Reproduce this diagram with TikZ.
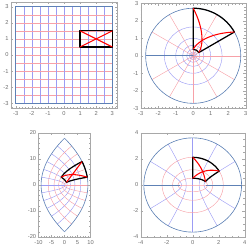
\documentclass[tikz,border=0pt]{standalone}
\usepackage{fontspec}
\setmainfont{Liberation Sans}
\usepackage{xcolor}
\usepackage{tikz}
\definecolor{mBlue}{HTML}{9C9CF4}
\definecolor{mRed}{HTML}{F7A1A8}
\definecolor{mEdge}{HTML}{5E81B5}
\definecolor{mFrame}{HTML}{A8A8A8}
\definecolor{mText}{HTML}{6E6E6E}
\tikzset{
  gridblue/.style={draw=mBlue, line width=0.5pt},
  gridred/.style={draw=mRed, line width=0.5pt},
  bound/.style={draw=mEdge, line width=0.7pt},
  regionbox/.style={draw=black, line width=1.4pt, line join=round},
  diag/.style={draw=red, line width=1.2pt},
  frameline/.style={draw=mFrame, line width=0.4pt},
  ticklab/.style={font=\fontsize{6.5}{7}\selectfont, text=mText, inner sep=0.5pt},
}

\begin{document}
\begin{tikzpicture}
  \useasboundingbox (0,0) rectangle (10,10);

  % panel 1: the square grid with the rectangle
  \begin{scope}[shift={(2.56,7.8)}, x=0.644cm, y=0.644cm]
    \foreach \v in {-3,-2.5,...,3} {
      \draw[gridblue] (\v,-3) -- (\v,3);
      \draw[gridred] (-3,\v) -- (3,\v);
    }
    \draw[bound] (-3,-3) rectangle (3,3);
    \draw[regionbox] (1,0.5) rectangle (3,1.5);
    \draw[diag] (1,0.5) -- (3,1.5) (3,0.5) -- (1,1.5);
    \draw[frameline] (-3.3,-3.3) rectangle (3.3,3.3);
    \foreach \t in {-3.2,-3,...,3.2}
      \draw[frameline] (\t,-3.3) -- ++(0,0.05cm) (\t,3.3) -- ++(0,-0.05cm)
                       (-3.3,\t) -- ++(0.05cm,0) (3.3,\t) -- ++(-0.05cm,0);
    \foreach \t [count=\k] in {-3,...,3} {
      \draw[frameline] (\t,-3.3) -- ++(0,0.09cm) (\t,3.3) -- ++(0,-0.09cm)
                       (-3.3,\t) -- ++(0.09cm,0) (3.3,\t) -- ++(-0.09cm,0);
      \node[ticklab, anchor=north] (pax\k) at ([yshift=-0.12cm]\t,-3.3) {\t};
      \node[ticklab, anchor=east] (pay\k) at ([xshift=-0.07cm]-3.3,\t) {\t};
    }
  \end{scope}

  % panel 2: exponential map
  \begin{scope}[shift={(7.728,7.768)}, x=0.70cm, y=0.70cm]
    \foreach \s in {-4.5,-4,...,0.5}
      \draw[gridblue] (0,0) circle[radius={exp(\s)}];
    \foreach \a in {-150,-120,...,150}
      \draw[gridred] (\a:{exp(-5)}) -- (\a:{exp(1)});
    \draw[bound] (0,0) circle[radius={exp(1)}];
    \draw[bound] (0,0) circle[radius={exp(-5)}];
    \draw[bound] (180:{exp(-5)}) -- (180:{exp(1)});
    \draw[regionbox] (30:{exp(-1)}) -- (30:{exp(1)})
      arc[start angle=30, end angle=90, radius={exp(1)}]
      -- (90:{exp(-1)}) arc[start angle=90, end angle=30, radius={exp(-1)}] -- cycle;
    \draw[diag] plot[domain=0:1, samples=30]
      ({exp(-1+2*\x)*cos(30+60*\x)},{exp(-1+2*\x)*sin(30+60*\x)});
    \draw[diag] plot[domain=0:1, samples=30]
      ({exp(1-2*\x)*cos(30+60*\x)},{exp(1-2*\x)*sin(30+60*\x)});
    \draw[frameline] (-3,-3) rectangle (3,3);
    \foreach \t in {-2.8,-2.6,...,2.8}
      \draw[frameline] (\t,-3) -- ++(0,0.05cm) (\t,3) -- ++(0,-0.05cm)
                       (-3,\t) -- ++(0.05cm,0) (3,\t) -- ++(-0.05cm,0);
    \foreach \t [count=\k] in {-3,...,3} {
      \draw[frameline] (\t,-3) -- ++(0,0.09cm) (\t,3) -- ++(0,-0.09cm)
                       (-3,\t) -- ++(0.09cm,0) (3,\t) -- ++(-0.09cm,0);
      \node[ticklab, anchor=north] (pbx\k) at ([yshift=-0.12cm]\t,-3) {\t};
      \node[ticklab, anchor=east] (pby\k) at ([xshift=-0.07cm]-3,\t) {\t};
    }
  \end{scope}

  % panel 3: squaring map
  \begin{scope}[shift={(2.58,2.6)}, x=0.104cm, y=0.104cm]
    \foreach \c in {0.5,1,...,2.5} {
      \draw[gridblue] plot[domain=-3:3, samples=31] ({\c*\c-\x*\x},{2*\c*\x});
      \draw[gridred] plot[domain=-3:3, samples=31] ({\x*\x-\c*\c},{2*\c*\x});
    }
    \draw[gridblue] (0,0) -- (-9,0);
    \draw[gridred] (0,0) -- (9,0);
    \draw[bound] plot[domain=-3:3, samples=31] ({9-\x*\x},{6*\x});
    \draw[bound] plot[domain=-3:3, samples=31] ({\x*\x-9},{6*\x});
    \draw[regionbox] plot[domain=1:3, samples=15] ({\x*\x-0.25},{\x})
      -- plot[domain=0.5:1.5, samples=15] ({9-\x*\x},{6*\x})
      -- plot[domain=3:1, samples=15] ({\x*\x-2.25},{3*\x})
      -- plot[domain=1.5:0.5, samples=15] ({1-\x*\x},{2*\x}) -- cycle;
    \draw[diag] plot[domain=0:1, samples=25]
      ({(1+2*\x)^2-(0.5+\x)^2},{2*(1+2*\x)*(0.5+\x)});
    \draw[diag] plot[domain=0:1, samples=25]
      ({(3-2*\x)^2-(0.5+\x)^2},{2*(3-2*\x)*(0.5+\x)});
    \draw[frameline] (-10,-20) rectangle (10,20);
    \foreach \t in {-9,...,9}
      \draw[frameline] (\t,-20) -- ++(0,0.05cm) (\t,20) -- ++(0,-0.05cm);
    \foreach \t in {-18,-16,...,18}
      \draw[frameline] (-10,\t) -- ++(0.05cm,0) (10,\t) -- ++(-0.05cm,0);
    \foreach \t [count=\k] in {-10,-5,0,5,10} {
      \draw[frameline] (\t,-20) -- ++(0,0.09cm) (\t,20) -- ++(0,-0.09cm);
      \node[ticklab, anchor=north] (pcx\k) at ([yshift=-0.12cm]\t,-20) {\t};
    }
    \foreach \t [count=\k] in {-20,-10,0,10,20} {
      \draw[frameline] (-10,\t) -- ++(0.09cm,0) (10,\t) -- ++(-0.09cm,0);
      \node[ticklab, anchor=east] (pcy\k) at ([xshift=-0.07cm]-10,\t) {\t};
    }
  \end{scope}

  % panel 4: sine map
  \begin{scope}[shift={(7.708,2.6)}, x=0.52cm, y=0.52cm]
    \foreach \c in {-60,-30,0,30,60}
      \draw[gridblue] plot[domain=-2:2, samples=31] ({sin(\c)*cosh(\x)},{cos(\c)*sinh(\x)});
    \foreach \c in {-1.5,-1,...,1.5}
      \draw[gridred] plot[domain=-90:90, samples=37] ({sin(\x)*cosh(\c)},{cos(\x)*sinh(\c)});
    \draw[bound] (1,0) -- ({cosh(2)},0);
    \draw[bound] (-1,0) -- ({-cosh(2)},0);
    \draw[bound] (0,0) ellipse[x radius={cosh(2)}, y radius={sinh(2)}];
    \draw[regionbox] plot[domain=0.5:1.5, samples=10] ({0},{sinh(\x)})
      -- plot[domain=0:60, samples=15] ({sin(\x)*cosh(1.5)},{cos(\x)*sinh(1.5)})
      -- plot[domain=1.5:0.5, samples=15] ({sin(60)*cosh(\x)},{cos(60)*sinh(\x)})
      -- plot[domain=60:0, samples=15] ({sin(\x)*cosh(0.5)},{cos(\x)*sinh(0.5)}) -- cycle;
    \draw[diag] plot[domain=0:1, samples=25]
      ({sin(60*\x)*cosh(0.5+\x)},{cos(60*\x)*sinh(0.5+\x)});
    \draw[diag] plot[domain=0:1, samples=25]
      ({sin(60-60*\x)*cosh(0.5+\x)},{cos(60-60*\x)*sinh(0.5+\x)});
    \draw[frameline] (-4,-4) rectangle (4,4);
    \foreach \t in {-3.5,-3,...,3.5}
      \draw[frameline] (\t,-4) -- ++(0,0.05cm) (\t,4) -- ++(0,-0.05cm)
                       (-4,\t) -- ++(0.05cm,0) (4,\t) -- ++(-0.05cm,0);
    \foreach \t [count=\k] in {-4,-2,0,2,4} {
      \draw[frameline] (\t,-4) -- ++(0,0.09cm) (\t,4) -- ++(0,-0.09cm)
                       (-4,\t) -- ++(0.09cm,0) (4,\t) -- ++(-0.09cm,0);
      \node[ticklab, anchor=north] (pdx\k) at ([yshift=-0.12cm]\t,-4) {\t};
      \node[ticklab, anchor=east] (pdy\k) at ([xshift=-0.07cm]-4,\t) {\t};
    }
  \end{scope}
\end{tikzpicture}
\end{document}
